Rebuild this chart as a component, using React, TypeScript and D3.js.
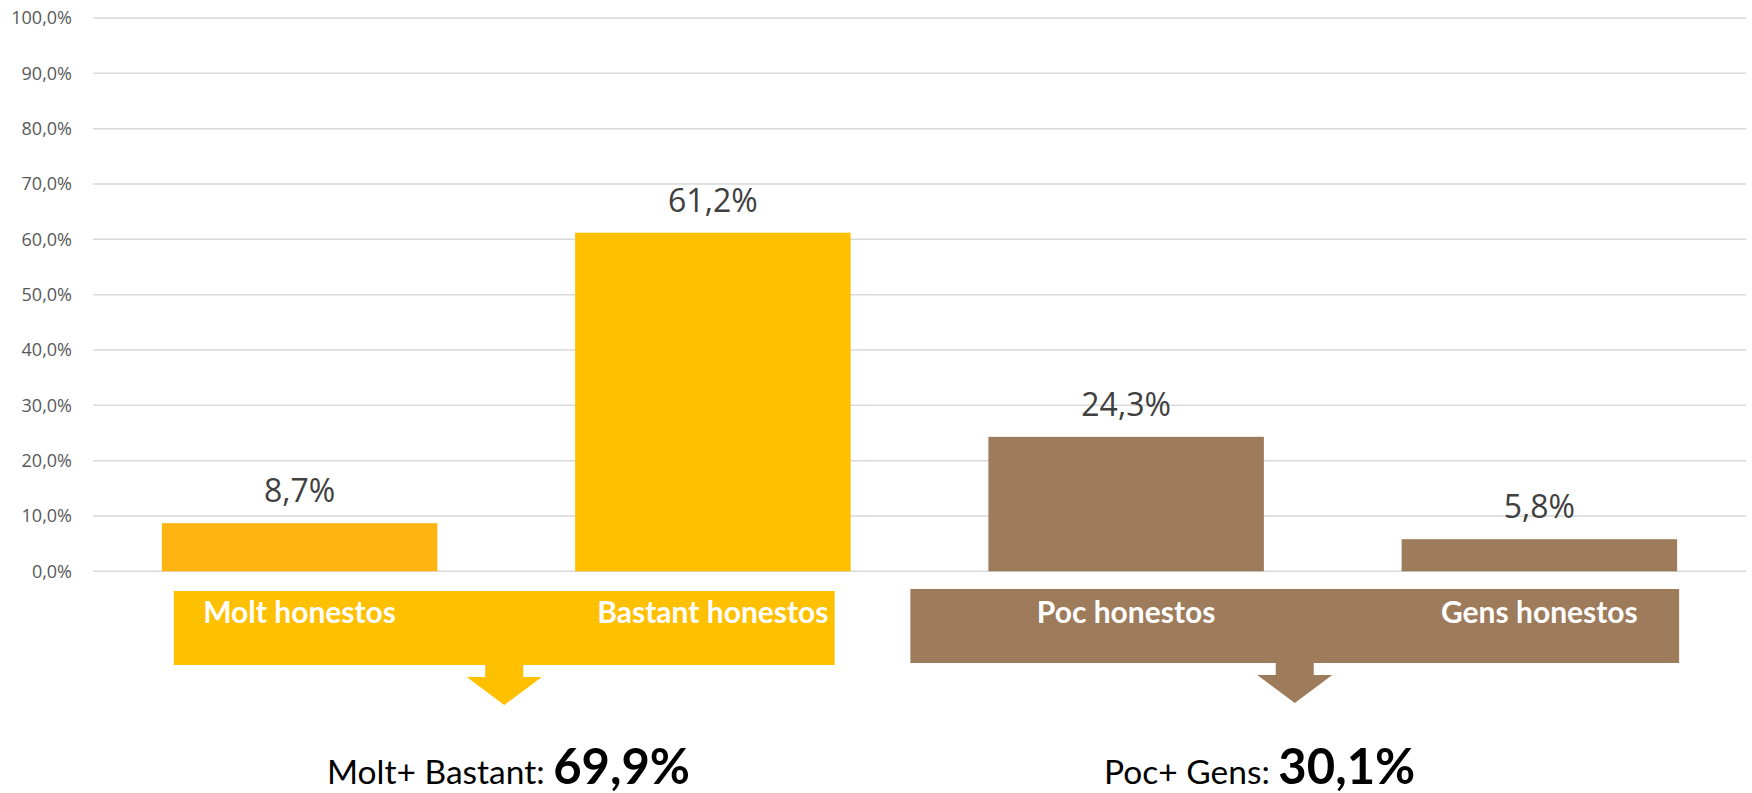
import React from "react";
import * as d3 from "d3";

const categories = ["Molt honestos", "Bastant honestos", "Poc honestos", "Gens honestos"];
const values = [8.7, 61.2, 24.3, 5.8];
const barColors = ["#FFB511", "#FFC000", "#9D7B5B", "#9D7B5B"];
const yTicks = [0, 10, 20, 30, 40, 50, 60, 70, 80, 90, 100];
const groupLabels = ["Molt+ Bastant:", "Poc+ Gens:"];
const groupMembers = [[0, 1], [2, 3]];
const groupColors = ["#FFC000", "#9D7B5B"];

const W = 1752;
const H = 793;
const plotLeft = 93;
const plotRight = 1746;
const plotTop = 18;
const plotBottom = 571.3;

// banner layout (offsets relative to band scale)
const bannerLeftOffset = [12, -78];
const bannerRightOffset = [-16, 2];
const bannerTop = [591, 589];
const bannerHeight = 74;
const textStartX = [327, 1104];

const fmt = (v: number) => v.toFixed(1).replace(".", ",") + "%";

export default function App() {
  const x = d3.scaleBand<string>().domain(categories).range([plotLeft, plotRight]).paddingInner(1 / 3).paddingOuter(1 / 6);
  const y = d3.scaleLinear().domain([0, 100]).range([plotBottom, plotTop]);
  const bw = x.bandwidth();

  return (
    <svg width={W} height={H} style={{ position: "absolute", left: 0, top: 0, background: "#fff" }}>
      {yTicks.map((t) => (
        <g key={t}>
          <line x1={plotLeft} x2={plotRight} y1={y(t)} y2={y(t)} stroke="#d9d9d9" strokeWidth={1.5} />
          <text x={72} y={y(t)} dy="0.35em" textAnchor="end" fontFamily="'Open Sans', sans-serif" fontSize={18} fill="#595959">
            {t.toFixed(1).replace(".", ",") + "%"}
          </text>
        </g>
      ))}
      {categories.map((c, i) => (
        <g key={c}>
          <rect x={x(c)!} y={y(values[i])} width={bw} height={y(0) - y(values[i])} fill={barColors[i]} />
          <text x={x(c)! + bw / 2} y={y(values[i]) - 21} textAnchor="middle" fontFamily="'Open Sans', sans-serif" fontSize={32} fill="#404040">
            {fmt(values[i])}
          </text>
        </g>
      ))}
      {groupMembers.map((m, gi) => {
        const x0 = x(categories[m[0]])! + bannerLeftOffset[gi];
        const x1 = x(categories[m[m.length - 1]])! + bw + bannerRightOffset[gi];
        const top = bannerTop[gi];
        const bottom = top + bannerHeight;
        const cx = (x0 + x1) / 2;
        const total = m.reduce((s, k) => s + values[k], 0);
        const arrow = [
          [cx - 19, bottom - 1],
          [cx + 19, bottom - 1],
          [cx + 19, bottom + 12],
          [cx + 37.5, bottom + 12],
          [cx, bottom + 40],
          [cx - 37.5, bottom + 12],
          [cx - 19, bottom + 12],
        ];
        return (
          <g key={gi}>
            <rect x={x0} y={top} width={x1 - x0} height={bannerHeight} fill={groupColors[gi]} />
            <path d={d3.line()(arrow as [number, number][])! + "Z"} fill={groupColors[gi]} />
            {m.map((k) => (
              <text key={k} x={x(categories[k])! + bw / 2} y={623} textAnchor="middle" fontFamily="Lato, sans-serif" fontWeight="bold" fontSize={30} fill="#fff">
                {categories[k]}
              </text>
            ))}
            <text x={textStartX[gi]} y={784} fontFamily="Lato, sans-serif" fill="#000">
              <tspan fontSize={33.5}>{groupLabels[gi] + " "}</tspan>
              <tspan fontSize={49} fontWeight="bold">{fmt(total)}</tspan>
            </text>
          </g>
        );
      })}
    </svg>
  );
}
